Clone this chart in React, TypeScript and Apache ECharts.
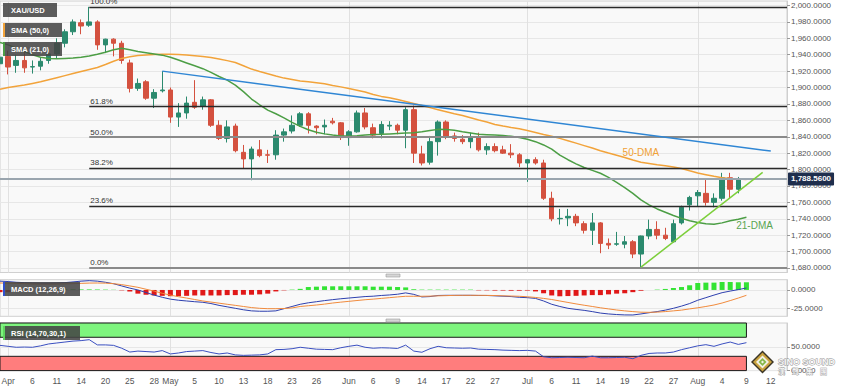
import React, { useEffect, useRef } from "react";
import * as echarts from "echarts";

// ---------- categories (trading days) ----------
const dates = [
  "Mar 31",
  "Apr 1", "Apr 4", "Apr 5", "Apr 6", "Apr 7", "Apr 8", "Apr 11", "Apr 12", "Apr 13", "Apr 14",
  "Apr 18", "Apr 19", "Apr 20", "Apr 21", "Apr 22", "Apr 25", "Apr 26", "Apr 27", "Apr 28", "Apr 29",
  "May 2", "May 3", "May 4", "May 5", "May 6", "May 9", "May 10", "May 11", "May 12", "May 13",
  "May 16", "May 17", "May 18", "May 19", "May 20", "May 23", "May 24", "May 25", "May 26", "May 27",
  "May 30", "May 31",
  "Jun 1", "Jun 2", "Jun 3", "Jun 6", "Jun 7", "Jun 8", "Jun 9", "Jun 10", "Jun 13", "Jun 14",
  "Jun 15", "Jun 16", "Jun 17", "Jun 20", "Jun 21", "Jun 22", "Jun 23", "Jun 24", "Jun 27", "Jun 28",
  "Jun 29", "Jun 30",
  "Jul 1", "Jul 4", "Jul 5", "Jul 6", "Jul 7", "Jul 8", "Jul 11", "Jul 12", "Jul 13", "Jul 14",
  "Jul 15", "Jul 18", "Jul 19", "Jul 20", "Jul 21", "Jul 22", "Jul 25", "Jul 26", "Jul 27", "Jul 28",
  "Jul 29",
  "Aug 1", "Aug 2", "Aug 3", "Aug 4", "Aug 5", "Aug 8", "Aug 9", "Aug 10", "Aug 11", "Aug 12",
  "Aug 15", "Aug 16",
];

const tickDates = [
  "Apr 1", "Apr 6", "Apr 11", "Apr 14", "Apr 20", "Apr 25", "Apr 28",
  "May 2", "May 5", "May 10", "May 13", "May 18", "May 23", "May 26",
  "Jun 1", "Jun 6", "Jun 9", "Jun 14", "Jun 17", "Jun 22", "Jun 27",
  "Jul 1", "Jul 6", "Jul 11", "Jul 14", "Jul 19", "Jul 22", "Jul 27",
  "Aug 1", "Aug 4", "Aug 9", "Aug 12",
];
const monthStarts = ["Apr 1", "May 2", "Jun 1", "Jul 1", "Aug 1"];

// ---------- XAU/USD daily candles (Mar 31 .. Aug 8) ----------
const open = [
  1929, 1938, 1927, 1933, 1925, 1926, 1933, 1941, 1954, 1968,
  1979, 1976, 1980, 1952, 1959, 1954, 1930, 1899, 1907, 1887,
  1896, 1897, 1864, 1869, 1882, 1877, 1885, 1854, 1838, 1853,
  1821, 1813, 1824, 1818, 1818, 1842, 1847, 1854, 1868, 1853,
  1852, 1859, 1857, 1839, 1846, 1869, 1851, 1844, 1853, 1854,
  1848, 1873, 1819, 1809, 1834, 1858, 1841, 1837, 1834, 1840,
  1824, 1828, 1824, 1820, 1818, 1808, 1812, 1808, 1765, 1740,
  1741, 1743, 1734, 1726, 1735, 1710, 1709, 1709, 1712, 1697,
  1719, 1727, 1720, 1712, 1735, 1757, 1768, 1771, 1760, 1765,
  1790, 1776,
];
const close = [
  1937, 1925, 1933, 1924, 1925.5, 1932, 1941, 1954, 1968, 1980,
  1975, 1980, 1952, 1959, 1954, 1933, 1899, 1905, 1887, 1894,
  1897, 1864, 1869, 1881, 1876, 1885, 1854, 1838, 1852, 1823,
  1813, 1825, 1817, 1817.5, 1842, 1846, 1854, 1868, 1854, 1851,
  1854, 1857, 1839, 1846, 1869, 1852, 1842, 1855, 1854, 1848,
  1873, 1820, 1808, 1834, 1858, 1840, 1838, 1834, 1840, 1824,
  1828, 1823, 1820, 1818, 1808, 1812, 1808, 1765, 1740, 1740.5,
  1743, 1735, 1726, 1735, 1710, 1708, 1709.5, 1712, 1697, 1719,
  1727, 1720, 1716, 1734, 1754, 1766, 1772, 1760, 1765, 1790,
  1776, 1788.56,
];
const low = [
  1917, 1916, 1918, 1918, 1917, 1921, 1929, 1935, 1949, 1964,
  1965, 1974, 1946, 1942, 1938, 1929, 1894, 1896, 1885, 1875,
  1894, 1857, 1852, 1862, 1874, 1873, 1852, 1836, 1833, 1821,
  1801, 1787, 1815, 1808, 1812, 1834, 1844, 1852, 1844, 1843,
  1843, 1855, 1836, 1829, 1845, 1849, 1838, 1838, 1848, 1843,
  1826, 1808, 1805, 1806, 1817, 1837, 1834, 1831, 1826, 1822,
  1818, 1821, 1819, 1814, 1803, 1785, 1806, 1763, 1737, 1733,
  1731, 1731, 1722, 1708, 1698, 1703, 1707, 1704, 1692, 1681,
  1715, 1715, 1714, 1711, 1733, 1750, 1755, 1756, 1754, 1762,
  1765, 1771,
];
const high = [
  1950, 1945, 1940, 1944, 1933, 1937, 1948, 1960, 1971, 1983,
  1983, 1998.4, 1982, 1959.5, 1960, 1957, 1934, 1911, 1909, 1898,
  1920, 1900, 1881, 1889, 1909, 1889, 1886, 1860, 1860, 1856,
  1830, 1828, 1836, 1824, 1848, 1850, 1866, 1870, 1870, 1854,
  1861, 1863, 1858, 1848, 1872, 1875, 1856, 1859, 1859, 1856,
  1876, 1878, 1829, 1841, 1860, 1860, 1845, 1842, 1845, 1845,
  1832, 1832, 1829, 1831, 1820, 1813, 1815, 1812, 1773, 1752,
  1752, 1746, 1737, 1747, 1736, 1716, 1724, 1719, 1714, 1719.5,
  1739, 1737, 1729, 1739, 1756, 1768, 1775, 1788, 1771, 1796,
  1796, 1791,
];

// ---------- moving averages (Mar 31 .. Aug 9) ----------
const sma50 = [
  1898, 1900, 1901.5, 1903, 1905, 1907, 1909.5, 1912, 1914.5, 1917,
  1919.5, 1922, 1924.5, 1928, 1932, 1935.5, 1937.5, 1939, 1939.8, 1940.3,
  1940.5, 1940.5, 1940.2, 1939.6, 1938.8, 1937.8, 1936.5, 1934.8, 1932.8, 1930.5,
  1926.5, 1922.5, 1919.5, 1916.8, 1914, 1911.5, 1909.8, 1908, 1907, 1905.8,
  1904.5, 1902.5, 1900.8, 1898.8, 1896.8, 1894.5, 1891.5, 1889.2, 1887.5, 1885.5,
  1883, 1880.5, 1878, 1875.5, 1873, 1870.5, 1868, 1865.8, 1863.2, 1860.5,
  1858, 1855, 1853, 1851.2, 1849.8, 1847.5, 1845.2, 1842.8, 1840.5, 1838,
  1835.2, 1832.2, 1829.2, 1826.2, 1823, 1820.2, 1817.5, 1814.8, 1811.6, 1809,
  1807.5, 1806, 1804.6, 1803.2, 1801.3, 1798.5, 1795.8, 1793.8, 1791.8, 1790,
  1789.2, 1788.6, 1788,
];
const sma21 = [
  1955, 1952, 1948, 1944, 1940, 1937, 1935.5, 1935, 1935.5, 1936,
  1937, 1938.5, 1940.5, 1943, 1946, 1948, 1946, 1944, 1942.5, 1941,
  1939.5, 1937, 1933.5, 1930, 1926.5, 1923, 1918.5, 1913.5, 1909, 1903,
  1895, 1886, 1879, 1872.5, 1868, 1863, 1857.5, 1852.6, 1848.5, 1845.5,
  1843.5, 1842, 1841, 1840.8, 1841.2, 1842, 1842.6, 1843, 1843.5, 1844,
  1844.5, 1845, 1846, 1847.5, 1849, 1848.8, 1847.8, 1846, 1844.5, 1843,
  1842.5, 1842, 1841.5, 1840.5, 1839, 1837, 1834, 1830, 1825, 1817.6,
  1812, 1807, 1802.5, 1799, 1795.5, 1790.5, 1784.5, 1778, 1771, 1763,
  1757, 1752, 1748, 1744, 1740.5, 1737.5, 1735.5, 1734, 1733.3, 1735,
  1737.5, 1739.5, 1741.8,
];

// ---------- MACD (12,26,9) ----------
const macdLine = [
  12, 11.5, 10.5, 10, 9.5, 9.2, 9.2, 9.5, 10, 11,
  12, 12.7, 12, 10.5, 8.5, 5.5, 2.5, 0, -3.5, -7,
  -10, -12.5, -14, -15, -16, -16.8, -18.5, -21, -23, -25,
  -27, -28.5, -29, -29, -28.5, -25.5, -22.5, -19.5, -17.5, -16,
  -14.5, -13.2, -12, -11, -10, -9, -8.5, -7.5, -6.8, -5.8,
  -4, -6, -9.5, -9, -7.5, -7.3, -7.3, -7.3, -7.3, -7.5,
  -7.5, -8, -8.5, -9, -10, -10.5, -11.5, -15, -19.5, -22.5,
  -25, -26.5, -27.8, -29.5, -31.5, -32.7, -33.5, -34, -34.1, -32.7,
  -31, -29.5, -27.5, -25, -22, -18.5, -14, -10.5, -7, -3.7,
  -1.5, 0.5, 2.7,
];
const signalLine = [
  9.5, 9.3, 9, 8.6, 8.2, 8, 8, 8.1, 8.3, 8.6,
  9, 9.4, 9.5, 9.3, 8.6, 7.3, 5.5, 3.6, 1, -1.5,
  -4.5, -7, -9.2, -11, -13, -15, -16.5, -18, -19.5, -21,
  -22.5, -24, -25, -25.5, -25.5, -25.3, -24.5, -22.5, -21.5, -20.5,
  -19.3, -17.8, -16.6, -15.5, -14.4, -13.3, -12.5, -11.5, -10.5, -9.5,
  -8.6, -8.6, -8.6, -8.4, -8, -7.7, -7.4, -7.3, -7.3, -7.3,
  -7.4, -7.6, -8, -8.3, -8.6, -9.3, -10.2, -11.5, -13, -15,
  -17, -19, -20.8, -22.5, -24.3, -25.8, -27.3, -28.5, -29.5, -30.3,
  -30.5, -30.2, -29.5, -28.5, -27.5, -25.8, -24.3, -22.5, -20.5, -17.8,
  -14.5, -11, -7.3,
];
const macdHist = [
  -3, -3, -1.5, -1, -0.5, 0.3, 0.5, 0.8, 1, 1,
  0.8, 0.8, 0.7, 0.5, 0.3, -0.5, -2, -5, -6.5, -7.5,
  -8, -8.5, -8.5, -8, -7.5, -7.5, -7.5, -7.5, -7, -7,
  -6.5, -6.5, -6, -5, -2, -0.5, 0.5, 1.5, 4, 4.5,
  5, 5, 5, 5, 5, 5, 4.5, 4.5, 4.5, 4,
  3.5, 1, 0.5, 0.5, 0.5, 0.5, 0.5, 0.5, 0.5, -0.5,
  -0.5, -0.8, -0.8, -1, -1, -0.8, -2, -4.5, -7.5, -8.6,
  -8.3, -8, -7.5, -7, -7, -6, -5, -4.5, -3, -1,
  0, 0.5, 1.4, 2.7, 4, 6.4, 9.5, 10, 10, 10.9,
  10.9, 10.5, 10.5,
];

// ---------- RSI (14) ----------
const rsi = [
  53, 51, 49, 49.5, 49, 52, 56, 58, 60, 62,
  63, 65, 54, 54, 53, 47, 39, 41, 40, 39,
  42, 35, 37, 40, 41, 42, 38, 35, 37, 33,
  32, 32.5, 33, 35, 44, 44.5, 46, 49, 47, 45,
  44.5, 44, 48, 51, 53.5, 49, 47, 48, 47.5, 46.5,
  53.5, 41, 38.5, 46, 51, 48, 47.5, 47, 47.5, 45,
  44.5, 44, 43, 42.5, 42, 42.5, 41, 29, 27, 27.5,
  28, 27.5, 27, 30.5, 27, 27, 27.5, 28, 25, 32,
  36, 37, 37, 39, 44, 48, 52, 54.5, 51, 56,
  60, 55, 58.7,
];

// ---------- axis ticks & levels ----------
const priceTicks = [1680, 1700, 1720, 1740, 1760, 1780, 1800, 1820, 1840, 1860, 1880, 1900, 1920, 1940, 1960, 1980, 2000];
const macdTicks = [-25, 0];
const rsiTicks = [0, 50];
const fibLabels = ["100.0%", "61.8%", "50.0%", "38.2%", "23.6%", "0.0%"];
const fibValues = [1998.4, 1877.1, 1839.6, 1802.2, 1755.8, 1680.9];
const fibStart = "Apr 18";
const resistanceLine: [string, number][] = [["Apr 29", 1920], ["Aug 12", 1822.5]];
const supportLine: [string, number][] = [["Jul 21", 1681], ["Aug 11", 1796.5]];
const lastPrice = 1788.56;
const rsiZoneEnd = "Aug 9";
const sma50Tag: [string, number] = ["Jul 21", 1820.6];
const sma21Tag: [string, number] = ["Aug 10", 1732.4];

const FONT = '"Liberation Sans", Arial, Helvetica, sans-serif';
const fmt4 = (v: number) =>
  v.toLocaleString("en-US", { minimumFractionDigits: 4, maximumFractionDigits: 4 });

function labelBox(x: number, y: number, w: number, text: string, strip: string | null) {
  const els: any[] = [
    { type: "rect", z: 100, shape: { x, y, width: w, height: 14 }, style: { fill: "rgba(70,70,70,0.88)" } },
    {
      type: "text",
      z: 102,
      x: x + 8,
      y: y + 7.5,
      style: { text, fill: "#ffffff", font: `bold 7.5px ${FONT}`, verticalAlign: "middle", align: "left" },
    },
  ];
  if (strip) els.push({ type: "rect", z: 101, shape: { x, y, width: 2, height: 14 }, style: { fill: strip } });
  return els;
}

function buildOption(): any {
  const last = dates[dates.length - 1];
  const candles = open.map((o, i) => [o, close[i], low[i], high[i]]);

  const fibMarks = fibValues.map((v, k) => {
    const grey = fibLabels[k] === "50.0%" || fibLabels[k] === "0.0%";
    return [
      {
        coord: [fibStart, v],
        lineStyle: { color: grey ? "#8a8a8a" : "#2a2a2a", width: grey ? 2 : 1.3, type: "solid" },
        label: {
          show: true,
          formatter: fibLabels[k],
          position: "insideStartTop",
          distance: 1,
          color: "#333",
          fontSize: 8,
          fontFamily: FONT,
        },
      },
      { coord: [last, v] },
    ];
  });

  const xBase = (gridIndex: number, showLabels: boolean) => ({
    type: "category",
    gridIndex,
    data: dates,
    boundaryGap: false,
    axisLine: { show: false },
    axisTick: { show: false },
    axisLabel: showLabels
      ? {
          show: true,
          interval: (_i: number, v: string) => tickDates.includes(v),
          formatter: (v: string) => (monthStarts.includes(v) ? v.split(" ")[0] : v.split(" ")[1]),
          fontSize: 8.5,
          color: "#555",
          margin: 6,
          fontFamily: FONT,
        }
      : { show: false },
    splitLine: {
      show: true,
      interval: (_i: number, v: string) => monthStarts.includes(v),
      lineStyle: { color: "#e1e1e1", width: 1 },
    },
  });

  const yBase = (gridIndex: number, min: number, max: number, ticks: number[]) => ({
    type: "value",
    gridIndex,
    position: "right",
    min,
    max,
    axisLine: { show: true, lineStyle: { color: "#cfcfcf" } },
    axisTick: { show: true, length: 3, customValues: ticks, lineStyle: { color: "#999" } },
    axisLabel: { customValues: ticks, formatter: fmt4, fontSize: 8, color: "#555", margin: 4, fontFamily: FONT },
    splitLine: { show: true, lineStyle: { color: "#e7e7e7" } },
  });

  const gridBase = { left: 0, right: 58, show: true, backgroundColor: "#f9f9f9", borderColor: "#d0d0d0", borderWidth: 1, outerBoundsMode: "none" };

  const logo: any[] = [
    { type: "polygon", z: 120, shape: { points: [[762.5, 350.5], [774, 362], [762.5, 373.5], [751, 362]] }, style: { fill: "#3b3526" } },
    { type: "polygon", z: 121, shape: { points: [[762.5, 352.5], [772, 362], [762.5, 371.5], [753, 362]] }, style: { fill: "#c9a23f" } },
    { type: "polygon", z: 122, shape: { points: [[762.5, 355.5], [769, 362], [762.5, 368.5], [756, 362]] }, style: { fill: "#f4f1e6" } },
    { type: "polygon", z: 123, shape: { points: [[762.5, 358], [766.5, 362], [762.5, 366], [758.5, 362]] }, style: { fill: "#86b84a" } },
    { type: "polygon", z: 124, shape: { points: [[762.5, 360.5], [764, 362], [762.5, 363.5], [761, 362]] }, style: { fill: "#f4f1e6" } },
    {
      type: "text",
      z: 125,
      x: 778,
      y: 361.5,
      style: { text: "SINO SOUND", fill: "#f6f6f6", stroke: "#8d8d8d", lineWidth: 0.8, font: `bold 9px ${FONT}`, verticalAlign: "middle" },
    },
    {
      type: "text",
      z: 125,
      x: 778,
      y: 371,
      style: { text: "漢　聲　集　團", fill: "#f6f6f6", stroke: "#8d8d8d", lineWidth: 0.6, font: `bold 7px "Noto Sans CJK TC", sans-serif`, verticalAlign: "middle" },
    },
  ];

  const grips = [274, 319].map((y) => ({
    type: "rect",
    z: 90,
    shape: { x: 386, y, width: 14, height: 3 },
    style: { fill: "#d6d6d6", stroke: "#9a9a9a", lineWidth: 0.6 },
  }));

  return {
    animation: false,
    backgroundColor: "#ffffff",
    textStyle: { fontFamily: FONT },
    grid: [
      { ...gridBase, top: 1, height: 271.5 },
      { ...gridBase, top: 279.7, height: 36.6 },
      { ...gridBase, top: 323, height: 47.6 },
    ],
    xAxis: [xBase(0, false), xBase(1, false), xBase(2, true)],
    yAxis: [
      yBase(0, 1674.5, 2005.5, priceTicks),
      yBase(1, -35.9, 14, macdTicks),
      yBase(2, 0, 100, rsiTicks),
    ],
    series: [
      {
        type: "candlestick",
        name: "XAU/USD",
        xAxisIndex: 0,
        yAxisIndex: 0,
        data: candles,
        barWidth: 5,
        itemStyle: {
          color: "#2b8a6e",
          color0: "#d4513f",
          borderColor: "#2b8a6e",
          borderColor0: "#d4513f",
          borderColorDoji: "#2b8a6e",
          borderWidth: 1,
        },
        markLine: {
          symbol: ["none", "none"],
          silent: true,
          animation: false,
          label: { show: false },
          data: [
            ...fibMarks,
            {
              yAxis: lastPrice,
              lineStyle: { color: "#9aa5ae", width: 2, type: "solid" },
              label: {
                show: true,
                position: "end",
                distance: 1,
                formatter: fmt4(lastPrice),
                backgroundColor: "#1f2e4d",
                color: "#ffffff",
                fontWeight: "bold",
                fontSize: 8,
                padding: [3, 3, 2, 3],
                borderRadius: 1,
                fontFamily: FONT,
              },
            },
            [
              { coord: resistanceLine[0], lineStyle: { color: "#2f86d4", width: 1.5, type: "solid" }, label: { show: false } },
              { coord: resistanceLine[1] },
            ],
            [
              { coord: supportLine[0], lineStyle: { color: "#7ccf3a", width: 1.5, type: "solid" }, label: { show: false } },
              { coord: supportLine[1] },
            ],
          ],
        },
      },
      {
        type: "line",
        name: "SMA (50,0)",
        xAxisIndex: 0,
        yAxisIndex: 0,
        data: sma50,
        showSymbol: false,
        symbol: "none",
        lineStyle: { color: "#f2a33a", width: 1.5 },
        markPoint: {
          symbol: "rect",
          symbolSize: 1,
          itemStyle: { color: "rgba(0,0,0,0)" },
          label: { show: true, position: "inside", formatter: "50-DMA", color: "#f0a035", fontSize: 10, fontFamily: FONT },
          data: [{ coord: sma50Tag }],
        },
      },
      {
        type: "line",
        name: "SMA (21,0)",
        xAxisIndex: 0,
        yAxisIndex: 0,
        data: sma21,
        showSymbol: false,
        symbol: "none",
        lineStyle: { color: "#4c9e45", width: 1.5 },
        markPoint: {
          symbol: "rect",
          symbolSize: 1,
          itemStyle: { color: "rgba(0,0,0,0)" },
          label: { show: true, position: "inside", formatter: "21-DMA", color: "#5aa552", fontSize: 10, fontFamily: FONT },
          data: [{ coord: sma21Tag }],
        },
      },
      {
        type: "bar",
        name: "MACD hist",
        xAxisIndex: 1,
        yAxisIndex: 1,
        data: macdHist,
        barWidth: 5,
        itemStyle: { color: (p: any) => (p.value >= 0 ? "#33e333" : "#e01818") },
      },
      {
        type: "line",
        name: "MACD",
        xAxisIndex: 1,
        yAxisIndex: 1,
        data: macdLine,
        showSymbol: false,
        symbol: "none",
        lineStyle: { color: "#2d3fae", width: 1 },
      },
      {
        type: "line",
        name: "Signal",
        xAxisIndex: 1,
        yAxisIndex: 1,
        data: signalLine,
        showSymbol: false,
        symbol: "none",
        lineStyle: { color: "#f08a3c", width: 1 },
      },
      {
        type: "line",
        name: "RSI",
        xAxisIndex: 2,
        yAxisIndex: 2,
        data: rsi,
        showSymbol: false,
        symbol: "none",
        z: 5,
        lineStyle: { color: "#3a4fc0", width: 1 },
        markArea: {
          silent: true,
          data: [
            [
              { xAxis: dates[0], yAxis: 70, itemStyle: { color: "#7ef57e", borderColor: "#1a1a1a", borderWidth: 1 } },
              { xAxis: rsiZoneEnd, yAxis: 100 },
            ],
            [
              { xAxis: dates[0], yAxis: 0, itemStyle: { color: "#ff7d7d", borderColor: "#1a1a1a", borderWidth: 1 } },
              { xAxis: rsiZoneEnd, yAxis: 30 },
            ],
          ],
        },
      },
    ],
    graphic: {
      elements: [
        ...labelBox(3, 3, 54, "XAU/USD", null),
        ...labelBox(3, 23, 59, "SMA (50,0)", "#f2a33a"),
        ...labelBox(3, 42, 59, "SMA (21,0)", "#4c9e45"),
        ...labelBox(3, 282, 77, "MACD (12,26,9)", "#3050d0"),
        ...labelBox(3, 326, 77, "RSI (14,70,30,1)", "#5fd45f"),
        ...grips,
        ...logo,
      ],
    },
  };
}

export default function App() {
  const ref = useRef<HTMLDivElement>(null);
  useEffect(() => {
    if (!ref.current) return;
    const chart = echarts.init(ref.current, undefined, { renderer: "svg" });
    chart.setOption(buildOption());
    return () => chart.dispose();
  }, []);
  return (
    <div
      ref={ref}
      style={{ position: "fixed", left: 0, top: 0, width: 845, height: 389, background: "#ffffff" }}
    />
  );
}
